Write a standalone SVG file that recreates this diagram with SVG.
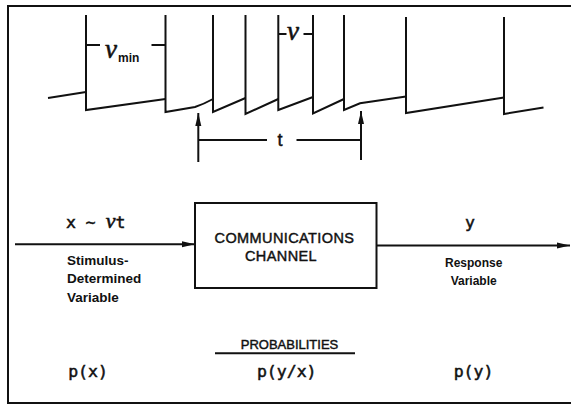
<svg xmlns="http://www.w3.org/2000/svg" width="571" height="406" viewBox="0 0 571 406">
<style>
.ln{fill:none;stroke:#111;stroke-width:2;stroke-linejoin:miter;stroke-linecap:butt}
.lbl{font-family:"Liberation Sans",Arial,sans-serif;font-weight:bold;fill:#111}
.med{font-family:"Liberation Sans",Arial,sans-serif;font-weight:normal;fill:#111;stroke:#111;stroke-width:0.45px}
.mono{font-family:"DejaVu Sans Mono","Liberation Mono",monospace;fill:#111;font-size:16.5px;font-weight:normal;stroke:#111;stroke-width:0.5px}
.greek{font-family:"Liberation Serif","Times New Roman",serif;font-style:italic;font-weight:normal;fill:#111;stroke:#111;stroke-width:0.6px}
</style>
<defs>
<marker id="ah" markerWidth="14" markerHeight="8" refX="13" refY="4" orient="auto" markerUnits="userSpaceOnUse">
<path d="M0,1 L13,4 L0,7 Z" fill="#111"/>
</marker>
</defs>
<rect width="571" height="406" fill="#fff"/>
<g id="frame">
<path class="ln" d="M571,6 H8 V403 H571" stroke-width="2.5"/>
</g>
<g id="waveform">
<path class="ln" d="M48,98 L86,92"/>
<path class="ln" d="M86,15 V110 L165.5,99"/>
<path class="ln" d="M165.5,15 V112 L195,107 Q204,104 213,99"/>
<path class="ln" d="M213,15 V112 L245.5,98"/>
<path class="ln" d="M245.5,15 V114 L278.3,99"/>
<path class="ln" d="M278.3,15 V110 L313,97"/>
<path class="ln" d="M313,15 V113.5 L344,99"/>
<path class="ln" d="M344,15 V110 L360,103.3 L406,96.5"/>
<path class="ln" d="M406,17 V113 L504,97.5"/>
<path class="ln" d="M504,17 V114 L543.5,107.5"/>
<path class="ln" d="M86,45 H100 M151.5,45 H165.5"/>
<text class="greek" x="105" y="58" font-size="27">ν</text>
<text class="lbl" x="118" y="61.5" font-size="12">min</text>
<path class="ln" d="M278.3,34 H286.5 M303.5,34 H313"/>
<text class="greek" x="287" y="40" font-size="27">ν</text>
</g>
<g id="interval">
<path class="ln" d="M198.3,162 V113" marker-end="url(#ah)"/>
<path class="ln" d="M361,160 V111" marker-end="url(#ah)"/>
<path class="ln" d="M198.3,140 H267 M296.5,140 H361"/>
<text class="med" x="280" y="145.5" font-size="18" text-anchor="middle">t</text>
</g>
<g id="connectors">
<path class="ln" d="M15,244.3 H195" marker-end="url(#ah)"/>
<path class="ln" d="M376.5,245.5 H570" marker-end="url(#ah)"/>
</g>
<g id="input">
<text class="mono" x="66" y="228" font-size="17">x ∼ <tspan class="greek" font-size="22">ν</tspan>t</text>
<text class="lbl" x="67" y="265" font-size="13.5">Stimulus-</text>
<text class="lbl" x="67" y="283" font-size="13.5">Determined</text>
<text class="lbl" x="67" y="301.5" font-size="13.5">Variable</text>
</g>
<g id="channel">
<rect class="ln" x="195" y="203" width="181.5" height="85"/>
<text class="med" x="284.5" y="242.7" font-size="14.5" text-anchor="middle" style="letter-spacing:0.4px">COMMUNICATIONS</text>
<text class="med" x="281" y="261" font-size="14.5" text-anchor="middle" style="letter-spacing:0.4px">CHANNEL</text>
</g>
<g id="output">
<text class="mono" x="470" y="228" font-size="17" text-anchor="middle">y</text>
<text class="lbl" x="473.7" y="266.7" font-size="12" text-anchor="middle">Response</text>
<text class="lbl" x="473.7" y="285" font-size="12" text-anchor="middle">Variable</text>
</g>
<g id="probabilities">
<text class="med" x="289.5" y="349" font-size="13" text-anchor="middle">PROBABILITIES</text>
<path class="ln" d="M215,353.3 H355"/>
<text class="mono" x="88" y="377" text-anchor="middle">p(x)</text>
<text class="mono" x="286.7" y="377" text-anchor="middle">p(y/x)</text>
<text class="mono" x="473.5" y="377" text-anchor="middle">p(y)</text>
</g>
</svg>
